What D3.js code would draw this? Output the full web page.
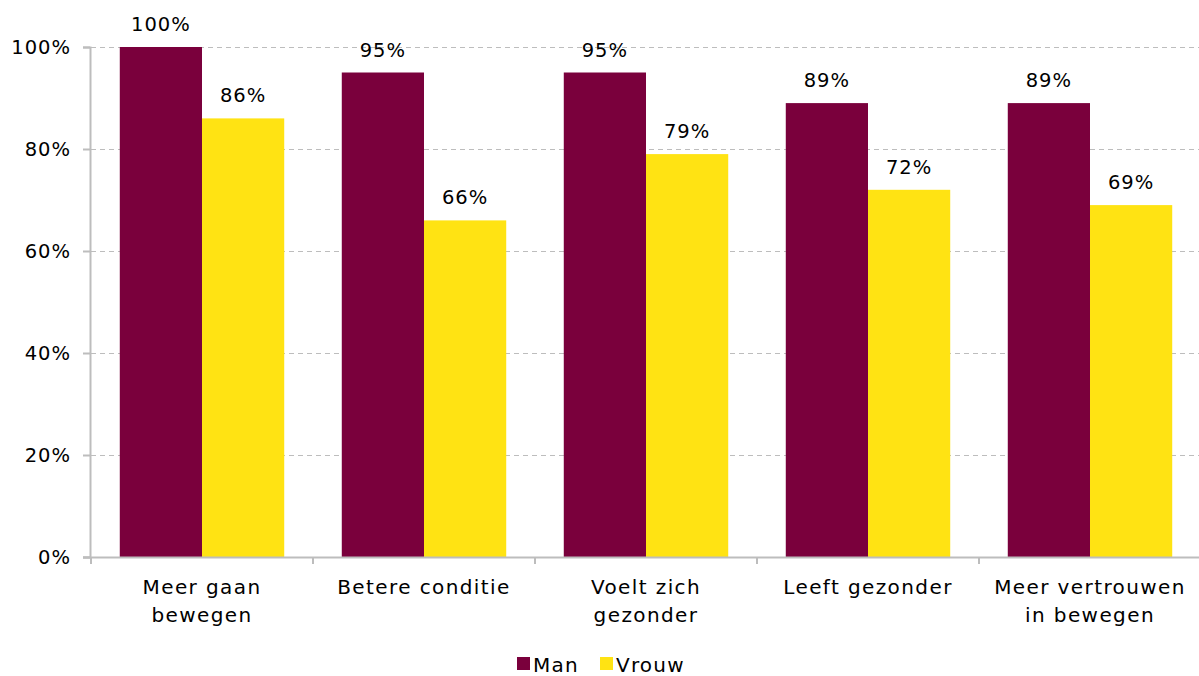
<!DOCTYPE html>
<html>
<head>
<meta charset="utf-8">
<script src="https://cdn.jsdelivr.net/npm/d3@7"></script>
<style>
  body { margin: 0; background: #fff; }
  svg { display: block; font-family: "DejaVu Sans", Verdana, sans-serif; }
</style>
</head>
<body>
<svg id="chart" width="1199" height="676"></svg>
<script>
// Categories (multi-line labels) and the two series
const categories = [
  ["Meer gaan", "bewegen"],
  ["Betere conditie"],
  ["Voelt zich", "gezonder"],
  ["Leeft gezonder"],
  ["Meer vertrouwen", "in bewegen"]
];
const seriesNames = ["Man", "Vrouw"];
const manValues = [100, 95, 95, 89, 89];
const vrouwValues = [86, 66, 79, 72, 69];
const yTicks = [0, 20, 40, 60, 80, 100];
const colors = ["#7a003c", "#ffe313"];

const svg = d3.select("#chart");
const margin = { left: 91, top: 47, bottom: 119 };
const W = 1199, H = 676;
const plotBottom = H - margin.bottom;
const gridColor = "#bdbdbd";

const catIds = categories.map((c, i) => i);
const x = d3.scaleBand().domain(catIds).range([margin.left, margin.left + 5 * 222]);
const xInner = d3.scaleBand().domain(seriesNames).range([0, x.bandwidth()]).paddingOuter(0.35).paddingInner(0);
const y = d3.scaleLinear().domain([0, 100]).range([plotBottom, margin.top]);

// Gridlines
svg.append("g").selectAll("line").data(yTicks.filter(d => d > 0)).join("line")
  .attr("x1", margin.left).attr("x2", W)
  .attr("y1", d => y(d) + 0.5).attr("y2", d => y(d) + 0.5)
  .attr("stroke", gridColor).attr("stroke-width", 1.2).attr("stroke-dasharray", "5,4");

// Bars
const data = catIds.map(i => [manValues[i], vrouwValues[i]]);
const groups = svg.append("g").selectAll("g").data(data).join("g")
  .attr("transform", (d, i) => `translate(${x(i)},0)`);
groups.selectAll("rect").data(d => d.map((v, j) => ({ v, s: seriesNames[j], j }))).join("rect")
  .attr("x", d => xInner(d.s)).attr("width", xInner.bandwidth())
  .attr("y", d => y(d.v)).attr("height", d => plotBottom - y(d.v))
  .attr("fill", d => colors[d.j]);
groups.selectAll("text").data(d => d.map((v, j) => ({ v, s: seriesNames[j] }))).join("text")
  .attr("x", d => xInner(d.s) + xInner.bandwidth() / 2)
  .attr("y", d => y(d.v) - 16)
  .attr("text-anchor", "middle").attr("font-size", 19.5).attr("letter-spacing", 1).attr("fill", "#000")
  .text(d => d.v + "%");

// Y axis
const yAxis = svg.append("g").attr("transform", `translate(${margin.left - 1},0)`)
  .call(d3.axisLeft(y).tickValues(yTicks).tickFormat(d => d + "%").tickSize(7).tickPadding(12));
yAxis.select(".domain").attr("stroke", gridColor).attr("stroke-width", 2);
yAxis.selectAll(".tick line").attr("stroke", gridColor).attr("stroke-width", 2);
yAxis.selectAll(".tick text").attr("font-size", 19.5).attr("letter-spacing", 1).attr("fill", "#000")
  .attr("font-family", "DejaVu Sans, Verdana, sans-serif");

// X axis line with boundary ticks
svg.append("line").attr("x1", margin.left - 8).attr("x2", W)
  .attr("y1", plotBottom + 0.5).attr("y2", plotBottom + 0.5)
  .attr("stroke", gridColor).attr("stroke-width", 2);
svg.append("g").selectAll("line").data(d3.range(catIds.length + 1)).join("line")
  .attr("x1", i => margin.left + i * x.step())
  .attr("x2", i => margin.left + i * x.step())
  .attr("y1", plotBottom).attr("y2", plotBottom + 7)
  .attr("stroke", gridColor).attr("stroke-width", 2);

// Category labels
svg.append("g").selectAll("text").data(categories).join("text")
  .attr("x", (d, i) => x(i) + x.bandwidth() / 2)
  .attr("y", plotBottom + 37)
  .attr("text-anchor", "middle").attr("font-size", 20).attr("letter-spacing", 1.4).attr("fill", "#000")
  .each(function (lines) {
    d3.select(this).selectAll("tspan").data(lines).join("tspan")
      .attr("x", d3.select(this).attr("x"))
      .attr("dy", (l, k) => k === 0 ? 0 : 28)
      .text(l => l);
  });

// Legend
const legendItems = [
  { name: seriesNames[0], color: colors[0], x: 517 },
  { name: seriesNames[1], color: colors[1], x: 600 }
];
const lg = svg.append("g").selectAll("g").data(legendItems).join("g")
  .attr("transform", d => `translate(${d.x},657)`);
lg.append("rect").attr("width", 13).attr("height", 13).attr("fill", d => d.color);
lg.append("text").attr("x", 16).attr("y", 15).attr("font-size", 20).attr("letter-spacing", 1.2)
  .attr("fill", "#000").text(d => d.name);
</script>
</body>
</html>
